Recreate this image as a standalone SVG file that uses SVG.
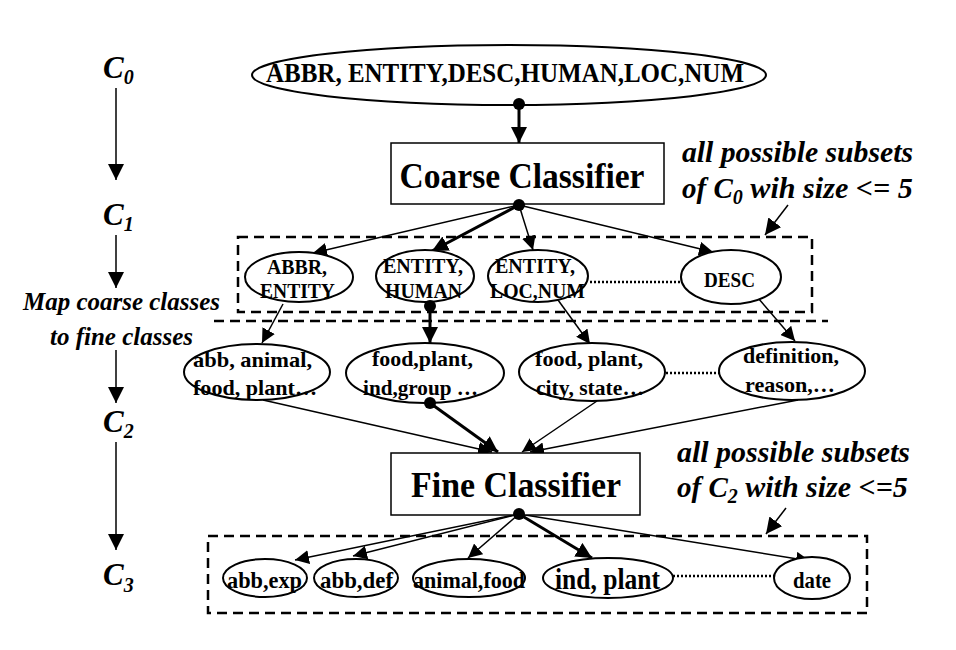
<svg xmlns="http://www.w3.org/2000/svg" width="956" height="650" viewBox="0 0 956 650">
<defs>
<marker id="ah" viewBox="0 0 10 10" refX="10" refY="5" markerWidth="14" markerHeight="14" markerUnits="userSpaceOnUse" orient="auto"><path d="M0,0 L10,5 L0,10 z" fill="#000"/></marker>
<marker id="ahb" viewBox="0 0 10 10" refX="10" refY="5" markerWidth="16" markerHeight="16" markerUnits="userSpaceOnUse" orient="auto"><path d="M0,0 L10,5 L0,10 z" fill="#000"/></marker>
<style>
.t{font-family:"Liberation Serif","Times New Roman",serif;font-weight:bold;fill:#000}
.i{font-style:italic}
.e{fill:#fff;stroke:#000;stroke-width:2}
.b{fill:#fff;stroke:#000;stroke-width:1.5}
.c{stroke:#000;stroke-width:1.5;fill:none}
.k{stroke:#000;stroke-width:3;fill:none}
.d{fill:none;stroke:#000;stroke-width:2.5;stroke-dasharray:10 6}
.o{stroke:#000;stroke-width:2.5;stroke-dasharray:2 2;fill:none}
</style>
</defs>
<rect width="956" height="650" fill="#fff"/>
<g id="levels">
<text class="t i" x="103" y="78" font-size="31">C<tspan font-size="20" dy="6">0</tspan></text>
<text class="t i" x="103" y="225" font-size="31">C<tspan font-size="20" dy="6">1</tspan></text>
<text class="t i" x="103" y="432" font-size="31">C<tspan font-size="20" dy="6">2</tspan></text>
<text class="t i" x="103" y="585" font-size="31">C<tspan font-size="20" dy="7">3</tspan></text>
<text class="t i" x="23" y="310" font-size="25" textLength="197" lengthAdjust="spacingAndGlyphs">Map coarse classes</text>
<text class="t i" x="50" y="345" font-size="25" textLength="143" lengthAdjust="spacingAndGlyphs">to fine classes</text>
<line class="c" x1="116" y1="88" x2="116" y2="180" stroke-width="2" marker-end="url(#ahb)"/>
<line class="c" x1="116" y1="235" x2="116" y2="288" stroke-width="2" marker-end="url(#ahb)"/>
<line class="c" x1="116" y1="350" x2="116" y2="403" stroke-width="2" marker-end="url(#ahb)"/>
<line class="c" x1="116" y1="442" x2="116" y2="550" stroke-width="2" marker-end="url(#ahb)"/>
</g>
<g id="groups">
<rect class="d" x="238" y="237" width="574" height="75"/>
<line class="d" x1="214" y1="321" x2="828" y2="321"/>
<rect class="d" x="208" y="536" width="659" height="77"/>
</g>
<g id="connectors">
<line class="k" x1="519" y1="104" x2="519" y2="143" marker-end="url(#ahb)"/>
<line class="c" x1="519" y1="205" x2="313" y2="253" marker-end="url(#ah)"/>
<line class="k" x1="519" y1="205" x2="432" y2="251" marker-end="url(#ahb)"/>
<line class="c" x1="519" y1="205" x2="533" y2="250" marker-end="url(#ah)"/>
<line class="c" x1="519" y1="205" x2="713" y2="252" marker-end="url(#ah)"/>
<line class="c" x1="283" y1="304" x2="262" y2="343" marker-end="url(#ah)"/>
<line class="k" x1="430" y1="306" x2="430" y2="343" marker-end="url(#ahb)"/>
<line class="c" x1="558" y1="300" x2="590" y2="344" marker-end="url(#ah)"/>
<line class="c" x1="758" y1="298" x2="795" y2="341" marker-end="url(#ah)"/>
<line class="c" x1="263" y1="400" x2="492" y2="452" marker-end="url(#ah)"/>
<line class="k" x1="430" y1="403" x2="498" y2="452" marker-end="url(#ahb)"/>
<line class="c" x1="597" y1="401" x2="522" y2="452" marker-end="url(#ah)"/>
<line class="c" x1="798" y1="400" x2="530" y2="452" marker-end="url(#ah)"/>
<line class="c" x1="519" y1="514" x2="295" y2="560" marker-end="url(#ah)"/>
<line class="c" x1="519" y1="514" x2="353" y2="556" marker-end="url(#ah)"/>
<line class="c" x1="519" y1="514" x2="468" y2="558" marker-end="url(#ah)"/>
<line class="k" x1="519" y1="514" x2="592" y2="558" marker-end="url(#ahb)"/>
<line class="c" x1="519" y1="514" x2="810" y2="561" marker-end="url(#ah)"/>
<line class="c" x1="788" y1="205" x2="765" y2="235" stroke-width="2" marker-end="url(#ahb)"/>
<line class="c" x1="786" y1="508" x2="766" y2="534" stroke-width="2" marker-end="url(#ahb)"/>
<line class="o" x1="590" y1="282" x2="681" y2="282"/>
<line class="o" x1="666" y1="373" x2="727" y2="373"/>
<line class="o" x1="673" y1="576" x2="774" y2="576"/>
</g>
<g id="c0">
<ellipse class="e" cx="509" cy="75" rx="257" ry="30"/>
<text class="t" x="505" y="82" font-size="27" text-anchor="middle" textLength="478" lengthAdjust="spacingAndGlyphs">ABBR, ENTITY,DESC,HUMAN,LOC,NUM</text>
</g>
<g id="coarse">
<rect class="b" x="391" y="143" width="273" height="61"/>
<text class="t" x="522" y="188" font-size="35" text-anchor="middle" textLength="245" lengthAdjust="spacingAndGlyphs">Coarse Classifier</text>
</g>
<g id="ann1">
<text class="t i" x="682" y="162" font-size="29" textLength="231" lengthAdjust="spacingAndGlyphs">all possible subsets</text>
<text class="t i" x="682" y="198" font-size="29">of C<tspan font-size="20" dy="6">0</tspan><tspan dy="-6" textLength="170" lengthAdjust="spacingAndGlyphs"> wih size &lt;= 5</tspan></text>
</g>
<g id="n_abbr_entity">
<ellipse class="e" cx="299" cy="277" rx="54" ry="25"/>
<text class="t" x="297" y="274" font-size="20" text-anchor="middle" textLength="60" lengthAdjust="spacingAndGlyphs">ABBR,</text>
<text class="t" x="297.5" y="298" font-size="20" text-anchor="middle" textLength="75" lengthAdjust="spacingAndGlyphs">ENTITY</text>
</g>
<g id="n_entity_human">
<ellipse class="e" cx="425" cy="276" rx="49" ry="26"/>
<text class="t" x="423" y="273" font-size="20" text-anchor="middle" textLength="80" lengthAdjust="spacingAndGlyphs">ENTITY,</text>
<text class="t" x="423.5" y="298" font-size="20" text-anchor="middle" textLength="77" lengthAdjust="spacingAndGlyphs">HUMAN</text>
</g>
<g id="n_entity_loc_num">
<ellipse class="e" cx="538" cy="276" rx="50" ry="26"/>
<text class="t" x="535" y="273" font-size="20" text-anchor="middle" textLength="80" lengthAdjust="spacingAndGlyphs">ENTITY,</text>
<text class="t" x="537.5" y="298" font-size="20" text-anchor="middle" textLength="95" lengthAdjust="spacingAndGlyphs">LOC,NUM</text>
</g>
<g id="n_desc">
<ellipse class="e" cx="731" cy="277" rx="50" ry="27"/>
<text class="t" x="729.5" y="287" font-size="20" text-anchor="middle" textLength="51" lengthAdjust="spacingAndGlyphs">DESC</text>
</g>
<g id="n_abb_animal">
<ellipse class="e" cx="257" cy="372" rx="73" ry="28"/>
<text class="t" x="252.5" y="367" font-size="21" text-anchor="middle" textLength="119" lengthAdjust="spacingAndGlyphs">abb, animal,</text>
<text class="t" x="255" y="395" font-size="21" text-anchor="middle" textLength="124" lengthAdjust="spacingAndGlyphs">food, plant…</text>
</g>
<g id="n_food_ind">
<ellipse class="e" cx="425" cy="373" rx="79" ry="30"/>
<text class="t" x="422.5" y="366" font-size="21" text-anchor="middle" textLength="101" lengthAdjust="spacingAndGlyphs">food,plant,</text>
<text class="t" x="420.5" y="395" font-size="21" text-anchor="middle" textLength="115" lengthAdjust="spacingAndGlyphs">ind,group …</text>
</g>
<g id="n_food_city">
<ellipse class="e" cx="592" cy="372" rx="73" ry="29"/>
<text class="t" x="589" y="366" font-size="21" text-anchor="middle" textLength="108" lengthAdjust="spacingAndGlyphs">food, plant,</text>
<text class="t" x="590" y="395" font-size="21" text-anchor="middle" textLength="108" lengthAdjust="spacingAndGlyphs">city, state…</text>
</g>
<g id="n_definition">
<ellipse class="e" cx="792" cy="371" rx="73" ry="29"/>
<text class="t" x="791" y="363" font-size="21" text-anchor="middle" textLength="96" lengthAdjust="spacingAndGlyphs">definition,</text>
<text class="t" x="790" y="392" font-size="21" text-anchor="middle" textLength="90" lengthAdjust="spacingAndGlyphs">reason,…</text>
</g>
<g id="fine">
<rect class="b" x="391" y="453" width="249" height="62"/>
<text class="t" x="516" y="497" font-size="35" text-anchor="middle" textLength="210" lengthAdjust="spacingAndGlyphs">Fine Classifier</text>
</g>
<g id="ann2">
<text class="t i" x="677" y="462" font-size="29" textLength="233" lengthAdjust="spacingAndGlyphs">all possible subsets</text>
<text class="t i" x="677" y="497" font-size="29">of C<tspan font-size="20" dy="6">2</tspan><tspan dy="-6" textLength="170" lengthAdjust="spacingAndGlyphs"> with size &lt;=5</tspan></text>
</g>
<g id="n_abb_exp">
<ellipse class="e" cx="265" cy="578" rx="42" ry="19"/>
<text class="t" x="264.5" y="588" font-size="23" text-anchor="middle" textLength="75" lengthAdjust="spacingAndGlyphs">abb,exp</text>
</g>
<g id="n_abb_def">
<ellipse class="e" cx="356" cy="578" rx="42" ry="19"/>
<text class="t" x="356.5" y="588" font-size="23" text-anchor="middle" textLength="73" lengthAdjust="spacingAndGlyphs">abb,def</text>
</g>
<g id="n_animal_food">
<ellipse class="e" cx="469" cy="578" rx="56" ry="19"/>
<text class="t" x="469" y="588" font-size="23" text-anchor="middle" textLength="112" lengthAdjust="spacingAndGlyphs">animal,food</text>
</g>
<g id="n_ind_plant">
<ellipse class="e" cx="608" cy="578" rx="65" ry="20"/>
<text class="t" x="607.5" y="589" font-size="29" text-anchor="middle" textLength="105" lengthAdjust="spacingAndGlyphs">ind, plant</text>
</g>
<g id="n_date">
<ellipse class="e" cx="812" cy="578" rx="38" ry="21"/>
<text class="t" x="812" y="588" font-size="23" text-anchor="middle" textLength="38" lengthAdjust="spacingAndGlyphs">date</text>
</g>
<g id="dots">
<circle cx="519" cy="104" r="6"/>
<circle cx="519" cy="205" r="6"/>
<circle cx="430" cy="306" r="6"/>
<circle cx="430" cy="403" r="6"/>
<circle cx="519" cy="514" r="6"/>
</g>
</svg>
